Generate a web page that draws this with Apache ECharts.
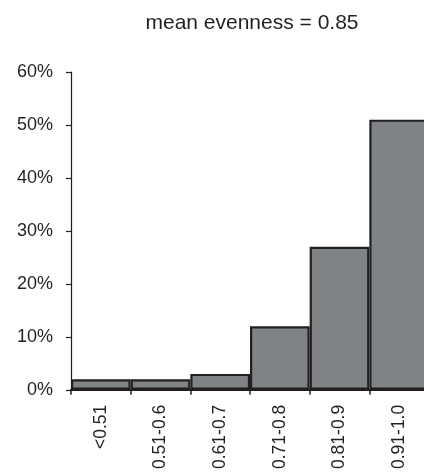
<!DOCTYPE html>
<html>
<head>
<meta charset="utf-8">
<script src="https://cdn.jsdelivr.net/npm/echarts@6/dist/echarts.min.js"></script>
<style>html,body{margin:0;padding:0;background:#fff;overflow:hidden}#c{width:430px;height:472px}</style>
</head>
<body>
<div id="c"></div>
<script>
var titleText = 'mean evenness = 0.85';
var categories = ['<0.51', '0.51-0.6', '0.61-0.7', '0.71-0.8', '0.81-0.9', '0.91-1.0'];
var percents = [2, 2, 3, 12, 27, 51];
var yMin = 0, yMax = 60, yStep = 10;

var chart = echarts.init(document.getElementById('c'), null, {renderer: 'canvas'});
chart.setOption({
  animation: false,
  backgroundColor: '#ffffff',
  title: {
    text: titleText,
    left: 247, top: 8, textAlign: 'center',
    textStyle: {fontFamily: 'Liberation Sans', fontSize: 21, fontWeight: 'normal', color: '#231f20'}
  },
  grid: {left: 71, right: 1, top: 72, bottom: 80, containLabel: false},
  xAxis: {
    type: 'category',
    data: categories,
    boundaryGap: true,
    axisLine: {show: true, lineStyle: {color: '#231f20', width: 2}},
    axisTick: {show: true, length: 5, lineStyle: {color: '#231f20', width: 1.5}},
    axisLabel: {rotate: 90, margin: 15, interval: 0, fontFamily: 'Liberation Sans', fontSize: 17.5, color: '#231f20'},
    splitLine: {show: false}
  },
  yAxis: {
    type: 'value',
    min: yMin, max: yMax, interval: yStep,
    axisLine: {show: true, lineStyle: {color: '#231f20', width: 1.2}},
    axisTick: {show: true, length: 5, lineStyle: {color: '#231f20', width: 1.2}},
    axisLabel: {formatter: '{value}%', margin: 18, fontFamily: 'Liberation Sans', fontSize: 18, color: '#231f20'},
    splitLine: {show: false}
  },
  series: [{
    type: 'bar',
    data: percents,
    barCategoryGap: '0%',
    itemStyle: {color: '#7f8386', borderColor: '#231f20', borderWidth: 2.2},
    z: 1
  }]
});
</script>
</body>
</html>
